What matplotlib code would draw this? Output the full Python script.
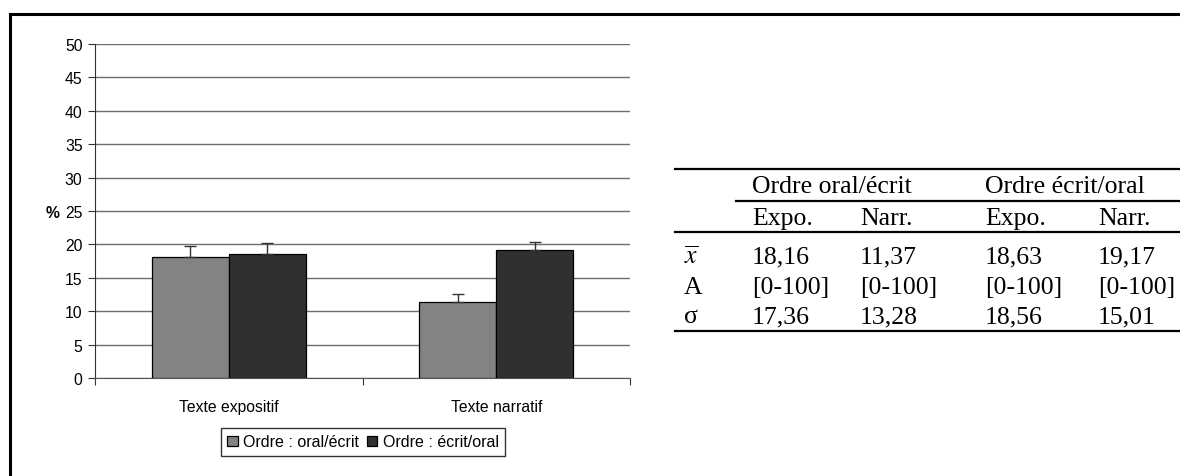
import matplotlib
matplotlib.use("Agg")
import matplotlib.pyplot as plt
from matplotlib.lines import Line2D
import numpy as np

# donnees du graphique
categories = ["Texte expositif", "Texte narratif"]
series = ["Ordre : oral/écrit", "Ordre : écrit/oral"]
oral_ecrit = [18.16, 11.37]
ecrit_oral = [18.63, 19.17]
err_oral_ecrit = [1.6, 1.15]
err_ecrit_oral = [1.6, 1.15]

# donnees du tableau
groupes = ["Ordre oral/écrit", "Ordre écrit/oral"]
sous_titres = ["Expo.", "Narr.", "Expo.", "Narr."]
lignes = [r"$\overline{x}$", "A", "σ"]
moyennes = ["18,16", "11,37", "18,63", "19,17"]
etendues = ["[0-100]", "[0-100]", "[0-100]", "[0-100]"]
ecarts = ["17,36", "13,28", "18,56", "15,01"]

plt.rcParams["font.family"] = ["Liberation Sans", "DejaVu Sans"]
plt.rcParams["mathtext.fontset"] = "stix"

W, H = 1180, 477
fig = plt.figure(figsize=(W / 100, H / 100), dpi=100)

def fx(px):
    return px / W

def fy(py):
    return 1 - py / H

ax = fig.add_axes([fx(95), fy(379), fx(630) - fx(95), fy(45) - fy(379)])

x = np.arange(len(categories)) + 0.5
w = 0.288
ax.bar(x - w / 2, oral_ecrit, w, color="#838383", edgecolor="black", lw=0.9,
       label=series[0], zorder=3)
ax.bar(x + w / 2, ecrit_oral, w, color="#303030", edgecolor="black", lw=0.9,
       label=series[1], zorder=3)
ax.errorbar(x - w / 2, oral_ecrit, yerr=[np.zeros(2), err_oral_ecrit], fmt="none",
            ecolor="#333333", elinewidth=1, capsize=4, capthick=1, zorder=4)
ax.errorbar(x + w / 2, ecrit_oral, yerr=[np.zeros(2), err_ecrit_oral], fmt="none",
            ecolor="#333333", elinewidth=1, capsize=4, capthick=1, zorder=4)

ax.set_xlim(0, 2)
ax.set_ylim(0, 50)
ax.set_yticks(range(0, 51, 5))
ax.yaxis.grid(True, color="#6e6e6e", lw=1)
ax.set_axisbelow(True)
ax.set_xticks([0, 1, 2])
ax.set_xticklabels([])
ax.set_xticks(x, minor=True)
ax.set_xticklabels(categories, minor=True)
ax.tick_params(axis="x", which="major", length=5, color="#333333", direction="out")
ax.tick_params(axis="x", which="minor", length=0, pad=15, labelsize=11.3)
ax.tick_params(axis="y", length=5, pad=4, labelsize=11.3, color="#333333")
for s in ["top", "right"]:
    ax.spines[s].set_visible(False)
ax.spines["left"].set_color("#333333")
ax.spines["bottom"].set_color("#555555")

fig.text(fx(46), fy(213), "%", fontsize=11.3, fontweight="bold", va="center", ha="left")

leg = fig.legend(loc="center", bbox_to_anchor=(fx(363), fy(443)), ncol=2,
                 fontsize=11.5, frameon=True, fancybox=False, handlelength=0.65,
                 handleheight=0.65, handletextpad=0.35, columnspacing=0.45,
                 borderpad=0.4, borderaxespad=0)
leg.get_frame().set_edgecolor("black")
leg.get_frame().set_linewidth(1)

# cadre
fig.add_artist(Line2D([fx(10), 1], [fy(15), fy(15)], color="black", lw=2.2))
fig.add_artist(Line2D([fx(10), fx(10)], [fy(15), 0], color="black", lw=2.2))

# tableau
tf = dict(family=["Liberation Serif", "DejaVu Serif"], fontsize=18.5, va="center", ha="left")
cols = [752, 860, 985, 1098]
fig.add_artist(Line2D([fx(675), 1], [fy(170), fy(170)], color="black", lw=1.6))
fig.add_artist(Line2D([fx(736), 1], [fy(202), fy(202)], color="black", lw=1.6))
fig.add_artist(Line2D([fx(675), 1], [fy(233), fy(233)], color="black", lw=1.6))
fig.add_artist(Line2D([fx(675), 1], [fy(332), fy(332)], color="black", lw=1.6))
fig.text(fx(cols[0]), fy(187), groupes[0], **tf)
fig.text(fx(cols[2]), fy(187), groupes[1], **tf)
for c, t in zip(cols, sous_titres):
    fig.text(fx(c), fy(219), t, **tf)
rows_y = [257, 288, 317]
for ly, lab in zip(rows_y, lignes):
    fig.text(fx(684), fy(ly), lab, **tf)
for ly, vals in zip(rows_y, [moyennes, etendues, ecarts]):
    for c, v in zip(cols, vals):
        fig.text(fx(c), fy(ly), v, **tf)

fig.savefig("out.png", dpi=100)
